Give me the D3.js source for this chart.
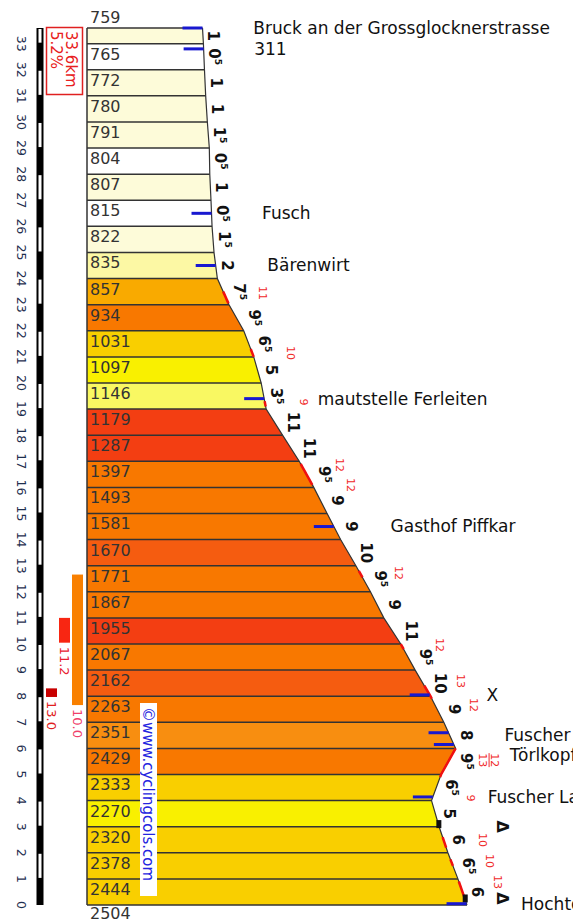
<!DOCTYPE html>
<html>
<head>
<meta charset="utf-8">
<script src="https://cdn.jsdelivr.net/npm/d3@7"></script>
<style>
  body { margin: 0; background: #fff; }
  svg { display: block; font-family: "DejaVu Sans", Verdana, sans-serif; }
</style>
</head>
<body>
<div id="chart"></div>
<script>
// km still to go at every row boundary (start of the climb at the top)
const kmMarks = [33.6, 33, 32, 31, 30, 29, 28, 27, 26, 25, 24, 23, 22, 21, 20, 19, 18, 17, 16, 15, 14, 13, 12, 11, 10, 9, 8, 7, 6, 5, 4, 3, 2, 1, 0];
// altitude (m) at each boundary
const elevations = [759, 765, 772, 780, 791, 804, 807, 815, 822, 835, 857, 934, 1031, 1097, 1146, 1179, 1287, 1397, 1493, 1581, 1670, 1771, 1867, 1955, 2067, 2162, 2263, 2351, 2429, 2333, 2270, 2320, 2378, 2444, 2504];
// average gradient of each row, as printed next to the road
const grades = [1, 0.5, 1, 1, 1.5, 0.5, 1, 0.5, 1.5, 2, 7.5, 9.5, 6.5, 5, 3.5, 11, 11, 9.5, 9, 9, 10, 9.5, 9, 11, 9.5, 10, 9, 8, 9.5, 6.5, 5, 6, 6.5, 6];
const kmTicks = [0, 1, 2, 3, 4, 5, 6, 7, 8, 9, 10, 11, 12, 13, 14, 15, 16, 17, 18, 19, 20, 21, 22, 23, 24, 25, 26, 27, 28, 29, 30, 31, 32, 33];

// places along the road
const placeNames = ["Bruck an der Grossglocknerstrasse", "311", "Fusch", "Bärenwirt", "mautstelle Ferleiten", "Gasthof Piffkar", "X", "Fuscher Törl", "Törlkopf", "Fuscher Lacke", "Hochtor"];
const placeKm = [33.6, 32.8, 26.5, 24.5, 19.4, 14.5, 8.05, 6.6, 6.15, 4.14, 0.05];

// steepest bits (small red numbers) and the red stretches of road
const maxGradeLabels = ["11", "10", "9", "12", "12", "12", "12", "13", "12", "12/13", "9", "10", "10", "13"];
const maxGradeKm = [23.45, 21.15, 19.27, 16.86, 16.09, 12.72, 9.96, 8.58, 7.66, 5.55, 4.1, 2.49, 1.69, 0.88];
const steepFrom = [23.5, 21.3, 19.3, 16.9, 12.8, 10.0, 8.4, 6.0, 2.6, 1.75, 0.9];
const steepTo = [23.05, 21.0, 19.1, 16.1, 12.55, 9.8, 7.9, 4.9, 2.2, 1.5, 0.3];

// other symbols
const triangleKm = [3.0, 0.25];
const squareKm = [3.1, 0.25];

// steepest 5 km / 1 km / 100 m
const bestLabels = ["10.0", "11.2", "13.0"];
const bestFrom = [12.66, 11, 8.3];
const bestTo = [7.66, 10.05, 7.97];

const totalLength = "33.6km";
const avgGrade = "5.2%";
const credit = "\u00a9www.cyclingcols.com";

const width = 573, height = 923;
const svg = d3.select("#chart").append("svg")
    .attr("width", width)
    .attr("height", height);

// vertical: km to go, horizontal: altitude
const y = d3.scaleLinear().domain([0, 33.6]).range([905, 28]);
const x = d3.scaleLinear().domain([759, 2504]).range([202.5, 467]);
const elevAt = d3.scaleLinear().domain(kmMarks).range(elevations);
const edgeAt = km => x(elevAt(km));
const left = 87;

const color = d3.scaleThreshold()
    .domain([0.75, 1.75, 3, 4.5, 5.75, 7.25, 7.75, 8.75, 9.75, 10.75])
    .range(["#ffffff", "#fdfbd9", "#fcf8a4", "#f9f862", "#f9f000", "#f9cf00", "#f9aa00", "#f88e10", "#f87800", "#f55c10", "#f33e12"]);

// rows
const rows = grades.map((g, i) => ({
    g: g,
    y0: y(kmMarks[i]), y1: y(kmMarks[i + 1]),
    x0: x(elevations[i]), x1: x(elevations[i + 1])
}));

svg.append("g").selectAll("path")
    .data(rows)
    .join("path")
    .attr("d", r => `M${left},${r.y0}L${r.x0},${r.y0}L${r.x1},${r.y1}L${left},${r.y1}Z`)
    .attr("fill", r => color(r.g));

// row separators
svg.append("g").selectAll("line")
    .data(kmMarks)
    .join("line")
    .attr("x1", left)
    .attr("x2", (d, i) => x(elevations[i]))
    .attr("y1", d => y(d))
    .attr("y2", d => y(d))
    .attr("stroke", "#333")
    .attr("stroke-width", 1.5);

svg.append("line")
    .attr("x1", left).attr("x2", left)
    .attr("y1", y(33.6)).attr("y2", y(0))
    .attr("stroke", "#333")
    .attr("stroke-width", 1.5);

// road edge
const road = d3.line().x(d => x(d[1])).y(d => y(d[0]));
svg.append("path")
    .datum(kmMarks.map((k, i) => [k, elevations[i]]))
    .attr("d", road)
    .attr("fill", "none")
    .attr("stroke", "#333")
    .attr("stroke-width", 1.2);

// red stretches
steepFrom.forEach((k0, i) => {
    const k1 = steepTo[i];
    const pts = [k0].concat(kmMarks.filter(k => k < k0 && k > k1), [k1]);
    svg.append("path")
        .datum(pts.map(k => [k, elevAt(k)]))
        .attr("d", road)
        .attr("fill", "none")
        .attr("stroke", "#f01010")
        .attr("stroke-width", 2.5);
});

// altitude labels
svg.append("g").selectAll("text")
    .data(elevations)
    .join("text")
    .attr("x", left + 3)
    .attr("y", (d, i) => i === 0 ? y(kmMarks[i]) - 5 : (i === elevations.length - 1 ? y(kmMarks[i]) + 14 : y(kmMarks[i]) + 16))
    .attr("font-size", 16)
    .attr("fill", "#333")
    .text(d => d);

// gradient labels, rotated
const gradeG = svg.append("g").selectAll("text")
    .data(rows)
    .join("text")
    .attr("transform", r => `translate(${Math.max(r.x0, r.x1) + 5},${(r.y0 + r.y1) / 2}) rotate(90)`)
    .attr("text-anchor", "middle")
    .attr("font-size", 15)
    .attr("font-weight", "bold")
    .attr("fill", "#111");
gradeG.append("tspan").text(r => Math.floor(r.g));
gradeG.append("tspan")
    .attr("font-size", 9)
    .attr("dy", -6)
    .text(r => r.g % 1 ? "5" : "");

// red max gradients
maxGradeLabels.forEach((lab, i) => {
    const k = maxGradeKm[i];
    const g = svg.append("g")
        .attr("transform", `translate(${edgeAt(k) + 35},${y(k)}) rotate(90)`)
        .attr("fill", "#f02828")
        .attr("font-size", 11)
        .attr("text-anchor", "middle");
    const parts = lab.split("/");
    if (parts.length === 1) {
        g.append("text").attr("y", 0).text(lab);
    } else {
        g.append("text").attr("y", -7).text(parts[0]);
        g.append("text").attr("y", 5).text(parts[1]);
        g.append("line").attr("x1", -7).attr("x2", 7).attr("y1", -5).attr("y2", -5)
            .attr("stroke", "#f02828").attr("stroke-width", 1);
    }
});

// triangles and black squares
svg.append("g").selectAll("text")
    .data(triangleKm)
    .join("text")
    .attr("transform", d => `translate(${x(d3.max(elevations)) + 30},${y(d)}) rotate(90)`)
    .attr("text-anchor", "middle")
    .attr("font-size", 16)
    .attr("font-weight", "bold")
    .attr("fill", "#111")
    .text("\u0394");

svg.append("g").selectAll("rect")
    .data(squareKm)
    .join("rect")
    .attr("x", d => edgeAt(d) - 2)
    .attr("y", d => y(d) - 4)
    .attr("width", 5)
    .attr("height", 8)
    .attr("fill", "#111");

// places: blue tick at the road, name to the right; names that would
// collide are pushed apart a little
let lastLabelY = -100;
placeNames.forEach((name, i) => {
    const k = placeKm[i];
    const xe = edgeAt(k);
    svg.append("line")
        .attr("x1", xe - 20).attr("x2", xe)
        .attr("y1", y(k)).attr("y2", y(k))
        .attr("stroke", "#1818d0")
        .attr("stroke-width", 3);
    let ly = y(k);
    const next = placeKm[i + 1];
    if (next !== undefined && y(next) - ly < 16) ly += 2;
    if (ly - lastLabelY < 20) ly = lastLabelY + 20;
    lastLabelY = ly;
    const reach = d3.max([k - 0.5, k, Math.min(k + 0.5, 33.6)], edgeAt);
    svg.append("text")
        .attr("x", reach + 50 + (ly - y(k) > 5 ? 6 : 0))
        .attr("y", ly)
        .attr("dy", "0.35em")
        .attr("font-size", 17)
        .attr("fill", "#111")
        .text(name);
});

// km scale on the left
const kmBar = svg.append("g");
kmBar.append("rect")
    .attr("x", 36.5).attr("width", 7)
    .attr("y", y(33.6)).attr("height", y(0) - y(33.6))
    .attr("fill", "#000");
kmBar.selectAll(".odd")
    .data(kmTicks.filter(k => k % 2 === 1))
    .join("rect")
    .attr("x", 38.5).attr("width", 3)
    .attr("y", k => y(Math.min(k + 1, 33.6)) + 1)
    .attr("height", k => y(k) - y(Math.min(k + 1, 33.6)) - 2)
    .attr("fill", "#fff");
kmBar.selectAll("text")
    .data(kmTicks)
    .join("text")
    .attr("transform", k => `translate(${17},${y(k)}) rotate(90)`)
    .attr("text-anchor", "middle")
    .attr("font-size", 12.5)
    .attr("fill", "#1f2f4f")
    .text(k => k);

// length / average box
svg.append("rect")
    .attr("x", 46.5).attr("y", 27.5)
    .attr("width", 36).attr("height", 67)
    .attr("fill", "#fff")
    .attr("stroke", "#e02020")
    .attr("stroke-width", 1.5);
svg.append("text")
    .attr("transform", `translate(${66},${31}) rotate(90)`)
    .attr("font-size", 15)
    .attr("fill", "#e82020")
    .text(totalLength);
svg.append("text")
    .attr("transform", `translate(${51},${31}) rotate(90)`)
    .attr("font-size", 15)
    .attr("fill", "#e82020")
    .text(avgGrade);

// steepest stretches
const barColors = ["#f98000", "#f82612", "#c80000"];
const barX = [72, 59, 46];
const labelColors = ["#f0406a", "#e82030", "#e02020"];
bestLabels.forEach((lab, i) => {
    svg.append("rect")
        .attr("x", barX[i]).attr("width", 11)
        .attr("y", y(bestFrom[i]))
        .attr("height", y(bestTo[i]) - y(bestFrom[i]))
        .attr("fill", barColors[i]);
    svg.append("text")
        .attr("transform", `translate(${barX[i] + 1},${y(bestTo[i]) + 4}) rotate(90)`)
        .attr("font-size", 13)
        .attr("fill", labelColors[i])
        .text(lab);
});

// credit
svg.append("rect")
    .attr("x", 140).attr("y", 703)
    .attr("width", 17).attr("height", 193)
    .attr("fill", "#fff");
svg.append("text")
    .attr("transform", `translate(${143},${707}) rotate(90)`)
    .attr("font-size", 15)
    .attr("fill", "#2424e0")
    .text(credit);
</script>
</body>
</html>
